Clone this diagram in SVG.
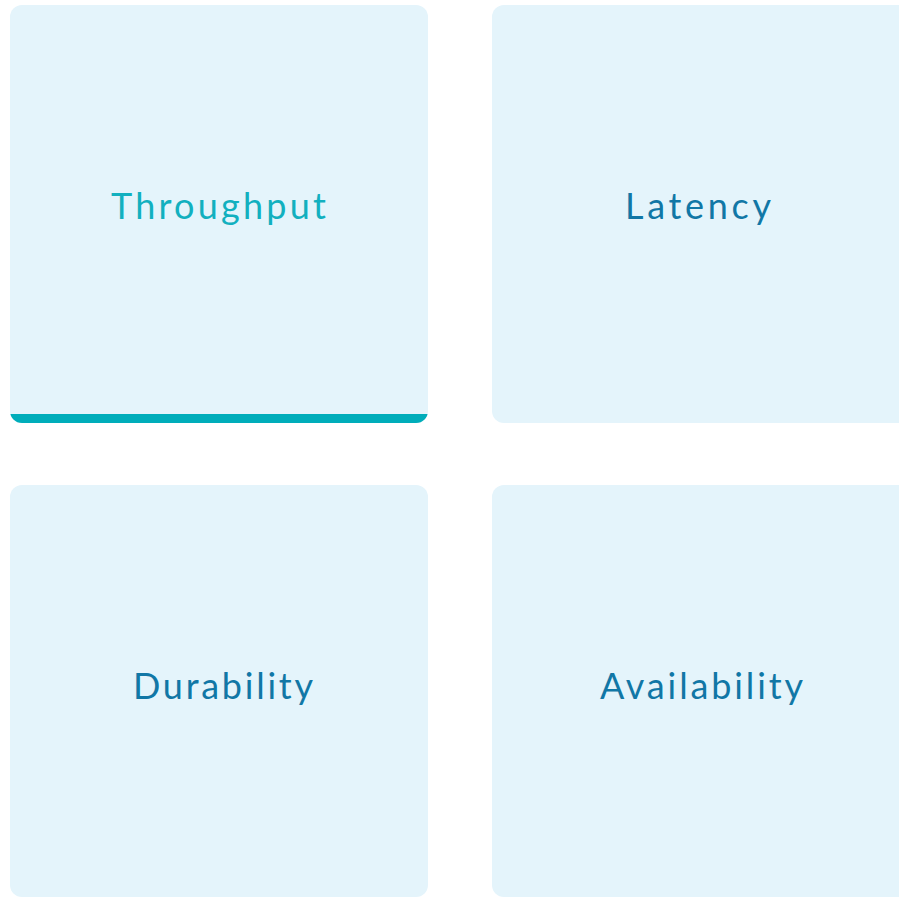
<svg xmlns="http://www.w3.org/2000/svg" width="899" height="898" viewBox="0 0 899 898">
<style>
.card{fill:#E4F4FB}
.lbl{font-family:Lato,"Noto Sans","DejaVu Sans",sans-serif;font-size:36px;text-anchor:middle;fill:#1177A6}
.active{fill:#12B0BF}
</style>
<defs>
<clipPath id="c1"><rect x="10" y="5" width="418" height="418" rx="12"/></clipPath>
</defs>
<rect width="899" height="898" fill="#FFFFFF"/>
<g id="throughput">
<rect class="card" x="10" y="5" width="418" height="418" rx="12"/>
<rect x="10" y="414" width="418" height="9" fill="#00ADBA" clip-path="url(#c1)"/>
<text class="lbl active" x="218.5" y="219" textLength="215" lengthAdjust="spacing">Throughput</text>
</g>
<g id="latency">
<rect class="card" x="492" y="5" width="418" height="418" rx="12"/>
<text class="lbl" x="698" y="219" textLength="146" lengthAdjust="spacing">Latency</text>
</g>
<g id="durability">
<rect class="card" x="10" y="485" width="418" height="412" rx="12"/>
<text class="lbl" x="223" y="699" textLength="180" lengthAdjust="spacing">Durability</text>
</g>
<g id="availability">
<rect class="card" x="492" y="485" width="418" height="412" rx="12"/>
<text class="lbl" x="701.5" y="699" textLength="203" lengthAdjust="spacing">Availability</text>
</g>
<g id="connectors"/>
</svg>
